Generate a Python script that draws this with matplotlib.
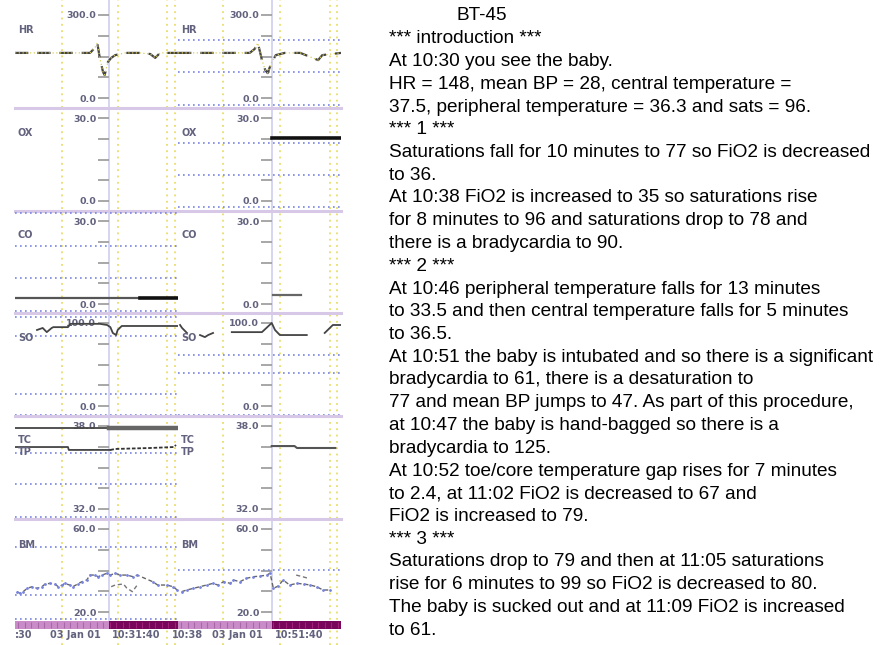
import numpy as np
import matplotlib
matplotlib.use('Agg')
import matplotlib.pyplot as plt

W, H = 881, 645
fig = plt.figure(figsize=(W / 100, H / 100), dpi=100)
fig.patch.set_facecolor('white')

# ------------------------------------------------------------------ data
channel_names = ['HR', 'OX', 'CO', 'SO', 'TC', 'BM']
scale_min = [0.0, 0.0, 0.0, 0.0, 32.0, 20.0]
scale_max = [300.0, 30.0, 30.0, 100.0, 38.0, 60.0]

col_start = [20.0, 40.0]          # minutes after 10:00
col_end = [40.0, 60.0]
cursor_times = [31.5, 51.5]
grid_times_left = [25.8, 32.6, 38.65, 39.6]
grid_times_right = [45.5, 52.5, 58.65, 59.5]

# heart rate
hr_left_t = [20.0, 25.5, 29.2, 29.8, 30.1, 30.4, 30.8, 31.0, 31.4, 31.8, 32.3, 33.5, 35.3, 36.6, 37.2, 37.8, 40.0]
hr_left_v = [163, 163, 163, 181, 199, 145, 94, 83, 130, 145, 155, 163, 163, 159, 145, 163, 163]
hr_right_t = [40.0, 42.7, 46.4, 48.8, 49.4, 49.8, 50.3, 50.7, 51.0, 51.5, 52.0, 53.1, 55.0, 57.2, 57.7, 60.0]
hr_right_v = [163, 163, 163, 163, 177, 199, 137, 101, 90, 130, 155, 163, 163, 137, 155, 163]

# FiO2 (OX)
ox_right_t = [51.5, 60.0]
ox_right_v = [22.8, 22.8]

# CO
co_left_t = [20.0, 35.3, 40.0]
co_left_v = [2.2, 2.2, 2.2]
co_right_t = [51.6, 55.1]
co_right_v = [3.3, 3.3]

# saturations (SO)
nan = np.nan
so_left_t = [22.7, 23.4, 23.9, 24.5, 24.7, 26.5, 26.8, 30.4, 31.3, 31.7, 32.0, 32.4, 32.6, 33.1, 39.4, 40.0]
so_left_v = [91.6, 94, 89, 94, 95, 95, 99, 99, 97.6, 95, 88, 85.5, 91.6, 96.4, 96.4, 96.4]
so_right_t = [40.25, 40.5, 41.1, nan, 42.7, 43.3, 43.7, 44.3, nan, 46.6, 50.3, 51.5, 51.9, 52.5, 52.8, 55.8, nan, 58.0, 59.0, 59.9]
so_right_v = [97.6, 94, 88, nan, 85.5, 83, 85.5, 88, nan, 89, 89, 100, 91.6, 85.5, 85.5, 85.5, nan, 88, 97.6, 97.6]

# temperatures
tc_left_t = [20.0, 31.5, 40.0]
tc_left_v = [37.85, 37.85, 37.85]
tp_left_t = [20.0, 26.5, 26.6, 31.7, 32.3, 36.6, 39.5, 39.75]
tp_left_v = [36.48, 36.48, 36.27, 36.27, 36.34, 36.41, 36.48, 36.63]
tc_right_t = [51.5, 54.3, 54.6, 59.3]
tc_right_v = [36.55, 36.55, 36.41, 36.41]

# mean blood pressure (BM)
bm_left_t = [20.25, 20.6, 21.0, 21.5, 22.1, 22.7, 23.3, 23.7, 24.3, 24.9, 25.3, 25.8, 26.1, 26.7, 27.1,
             27.7, 28.2, 28.8, 29.2, 29.8, 30.2, 30.7, 31.3, 31.7, 32.3, 32.9, 33.7, 34.5, 35.0, 36.9,
             37.5, 38.6, 39.4, 39.9]
bm_left_v = [29.8, 29.0, 29.8, 31.4, 32.2, 31.4, 32.2, 33.5, 33.8, 33.5, 32.2, 33.0, 33.8, 33.0, 32.2,
             33.5, 34.6, 35.4, 37.8, 37.8, 37.0, 37.8, 38.7, 37.8, 38.7, 37.8, 37.8, 37.0, 37.8, 34.6,
             33.0, 33.0, 32.2, 30.6]
bm2_left_t = [31.8, 32.3, 33.3, 33.7, 34.4, 35.0]
bm2_left_v = [32.2, 33.0, 33.5, 31.6, 29.8, 33.0]
bm_right_t = [40.45, 41.07, 41.9, 42.7, 43.5, 44.3, 44.9, 45.6, 46.4, 46.8, 47.6, 48.4, 49.2, 50.1, 50.9,
              51.3, 51.7, 52.3, 52.9, 53.7, 54.6, 55.4, 56.2, 57.0, 57.8, 58.6]
bm_right_v = [29.8, 30.6, 31.4, 32.2, 33.0, 33.8, 33.0, 34.6, 33.8, 35.4, 34.6, 36.2, 37.0, 37.3, 37.8,
              38.7, 31.4, 32.5, 35.4, 33.0, 33.8, 33.5, 33.0, 32.2, 30.6, 30.6]
bm2_right_t = [54.5, 55.3, 56.0]
bm2_right_v = [37.8, 37.0, 36.2]

# alarm-limit (dotted) levels per panel: [row][column]
limit_levels = [
    [[], [210, 94, -25]],
    [[], [21, 9.4, -2.2]],
    [[32.9, 21, 9.4, -2.5], []],
    [[107, 84, 14.5, -11], [61, 40, -11]],
    [[36.05, 33.8, 31.4], []],
    [[51.3, 28.2, 16.5], [40.2]],
]

# time bar
bar_left_start = [20.0, 31.5]
bar_left_end = [31.5, 40.0]
bar_right_start = [40.0, 51.5]
bar_right_end = [51.5, 60.0]
time_labels_left = [':30', '03 Jan 01', '10:31:40']
time_labels_left_t = [20.0, 24.3, 31.9]
time_labels_right = ['10:38', '03 Jan 01', '10:51:40']
time_labels_right_t = [39.3, 44.2, 51.9]

story_title = 'BT-45'
story_lines = [
    '*** introduction ***',
    'At 10:30 you see the baby.',
    'HR = 148, mean BP = 28, central temperature =',
    '37.5, peripheral temperature = 36.3 and sats = 96.',
    '*** 1 ***',
    'Saturations fall for 10 minutes to 77 so FiO2 is decreased',
    'to 36.',
    'At 10:38 FiO2 is increased to 35 so saturations rise',
    'for 8 minutes to 96 and saturations drop to 78 and',
    'there is a bradycardia to 90.',
    '*** 2 ***',
    'At 10:46 peripheral temperature falls for 13 minutes',
    'to 33.5 and then central temperature falls for 5 minutes',
    'to 36.5.',
    'At 10:51 the baby is intubated and so there is a significant',
    'bradycardia to 61, there is a desaturation to',
    '77 and mean BP jumps to 47. As part of this procedure,',
    'at 10:47 the baby is hand-bagged so there is a',
    'bradycardia to 125.',
    'At 10:52 toe/core temperature gap rises for 7 minutes',
    'to 2.4, at 11:02 FiO2 is decreased to 67 and',
    'FiO2 is increased to 79.',
    '*** 3 ***',
    'Saturations drop to 79 and then at 11:05 saturations',
    'rise for 6 minutes to 99 so FiO2 is decreased to 80.',
    'The baby is sucked out and at 11:09 FiO2 is increased',
    'to 61.',
]

# ------------------------------------------------------------------ layout (pixels)
COL_X = [(15, 178), (178, 341)]
ROW_TOP = [0, 108, 211, 313, 416, 519]
ROW_BOT = [108, 211, 313, 416, 519, 620]
SCALE_TOP = [15, 118, 221, 323, 426, 529]
SCALE_BOT = [98, 201, 304, 406, 509, 612]
LABEL_Y = [30, 133, 235, 338, 440, 545]

label_color = '#62627e'
tick_color = '#a0a0a0'
trace_color = '#444444'
limit_color = '#7884e0'
grid_color = '#e9dc6a'
cursor_color = '#cacaee'
sep_color = '#d6c8e6'
pink = '#c98cc9'
plum = '#78065a'

col_ranges = list(zip(col_start, col_end))
grid_times = [grid_times_left, grid_times_right]

# background (grid + cursor) per column
for c in range(2):
    x0, x1 = COL_X[c]
    bg = fig.add_axes([x0 / W, 0, (x1 - x0) / W, 1], zorder=0)
    bg.set_xlim(*col_ranges[c])
    bg.set_ylim(0, 1)
    bg.axis('off')
    for g in grid_times[c]:
        bg.axvline(g, color=grid_color, lw=1.3, ls=(0, (1, 2.5)))
    bg.axvline(cursor_times[c], ymin=1 - 620 / H, ymax=1, color=cursor_color, lw=1.1)

panels = {}
for r in range(6):
    for c in range(2):
        x0, x1 = COL_X[c]
        ax = fig.add_axes([x0 / W, 1 - ROW_BOT[r] / H, (x1 - x0) / W,
                           (ROW_BOT[r] - ROW_TOP[r]) / H], zorder=2)
        ax.set_facecolor('none')
        k = (scale_max[r] - scale_min[r]) / (SCALE_BOT[r] - SCALE_TOP[r])
        ax.set_ylim(scale_min[r] - (ROW_BOT[r] - SCALE_BOT[r]) * k,
                    scale_max[r] + (SCALE_TOP[r] - ROW_TOP[r]) * k)
        ax.set_xlim(*col_ranges[c])
        for s in ['top', 'right']:
            ax.spines[s].set_visible(False)
        ax.spines['left'].set_position(('data', cursor_times[c]))
        ax.spines['left'].set_visible(False)
        if r < 5:
            ax.spines['bottom'].set_color(sep_color)
            ax.spines['bottom'].set_linewidth(2.2)
        else:
            ax.spines['bottom'].set_visible(False)
        ax.set_xticks([])
        ticks = np.linspace(scale_min[r], scale_max[r], 5)
        ax.set_yticks(ticks)
        ax.set_yticklabels(['%.1f' % scale_min[r], '', '', '', '%.1f' % scale_max[r]])
        ax.tick_params(axis='y', direction='out', length=8, width=1.3, color=tick_color,
                       labelsize=6.8, labelcolor=label_color, pad=1)
        for lab in ax.get_yticklabels():
            lab.set_fontweight('bold')
        for lv in limit_levels[r][c]:
            ax.axhline(lv, color=limit_color, lw=1.2, ls=(0, (1, 2)))
        fig.text((x0 + 3) / W, 1 - LABEL_Y[r] / H, channel_names[r], fontsize=7,
                 fontweight='bold', color=label_color, va='center', ha='left', zorder=3)
        if r == 4:
            fig.text((x0 + 3) / W, 1 - 452 / H, 'TP', fontsize=7, fontweight='bold',
                     color=label_color, va='center', ha='left', zorder=3)
        panels[(r, c)] = ax


def seg(t, v, t_from, t_to):
    t = np.asarray(t, float)
    v = np.asarray(v, float)
    m = (t >= t_from) & (t <= t_to)
    return t[m], v[m]


# HR
for c, (t, v) in enumerate([(hr_left_t, hr_left_v), (hr_right_t, hr_right_v)]):
    panels[(0, c)].plot(t, v, color=trace_color, lw=1.6, dashes=(6, 4))
    panels[(0, c)].plot(t, v, color='#d8cc55', lw=0.9, ls=(0, (1, 2)))

# OX
panels[(1, 1)].plot(ox_right_t, ox_right_v, color='#111111', lw=2.6)

# CO
tt, vv = seg(co_left_t, co_left_v, 20.0, 35.3)
panels[(2, 0)].plot(tt, vv, color='#555555', lw=1.6)
tt, vv = seg(co_left_t, co_left_v, 35.3, 40.0)
panels[(2, 0)].plot(tt, vv, color='#111111', lw=2.6)
panels[(2, 1)].plot(co_right_t, co_right_v, color='#666666', lw=1.6)

# SO
panels[(3, 0)].plot(so_left_t, so_left_v, color=trace_color, lw=1.3)
panels[(3, 1)].plot(so_right_t, so_right_v, color=trace_color, lw=1.3)

# TC / TP
tt, vv = seg(tc_left_t, tc_left_v, 20.0, 31.5)
panels[(4, 0)].plot(tt, vv, color='#444444', lw=1.3)
tt, vv = seg(tc_left_t, tc_left_v, 31.5, 40.0)
panels[(4, 0)].plot(tt, vv, color='#666666', lw=3.2)
tt, vv = seg(tp_left_t, tp_left_v, 20.0, 31.7)
panels[(4, 0)].plot(tt, vv, color='#444444', lw=1.3)
tt, vv = seg(tp_left_t, tp_left_v, 31.7, 40.0)
panels[(4, 0)].plot(tt, vv, color='#333333', lw=1.3, ls=(0, (2, 1)))
panels[(4, 1)].plot(tc_right_t, tc_right_v, color='#555555', lw=1.5)

# BM
for c, (t, v) in enumerate([(bm_left_t, bm_left_v), (bm_right_t, bm_right_v)]):
    panels[(5, c)].plot(t, v, color='#666666', lw=1.0, dashes=(3, 2))
    panels[(5, c)].plot(t, v, ls='none', marker='.', ms=2, color=limit_color)
panels[(5, 0)].plot(bm2_left_t, bm2_left_v, color='#777777', lw=1.0, dashes=(3, 2))
panels[(5, 1)].plot(bm2_right_t, bm2_right_v, color='#777777', lw=1.0, dashes=(3, 2))

# time bar
bars = [(bar_left_start, bar_left_end), (bar_right_start, bar_right_end)]
tlabels = [(time_labels_left_t, time_labels_left), (time_labels_right_t, time_labels_right)]
for c in range(2):
    x0, x1 = COL_X[c]
    bax = fig.add_axes([x0 / W, 1 - 629 / H, (x1 - x0) / W, 8 / H], zorder=2)
    bax.set_xlim(*col_ranges[c])
    bax.set_ylim(0, 1)
    bax.axis('off')
    starts, ends = bars[c]
    cols = [pink, plum]
    for s, e, colr in zip(starts, ends, cols):
        bax.barh(0.5, e - s, left=s, height=1.0, color=colr, edgecolor='none')
    tk = np.arange(col_ranges[c][0] + 0.4, col_ranges[c][1], 0.8)
    bax.vlines(tk[tk < cursor_times[c]], 0.1, 0.9, color='#a868a8', lw=0.8)
    bax.vlines(tk[tk > cursor_times[c]], 0.1, 0.9, color='#a0207a', lw=0.8)
    for t, lab in zip(*tlabels[c]):
        bax.text(t, -0.7, lab, fontsize=7, fontweight='bold', color=label_color,
                 ha='left', va='center')

# narrative text
font = 'Liberation Sans'
fig.text(457 / W, 1 - 20.5 / H, story_title, fontsize=13.7, family=font, va='baseline', ha='left')
for i, line in enumerate(story_lines):
    base = 20.5 + 22.75 * (i + 1)
    fig.text(389 / W, 1 - base / H, line, fontsize=13.7, family=font, va='baseline', ha='left')

fig.savefig('out.png', dpi=100, facecolor='white')
